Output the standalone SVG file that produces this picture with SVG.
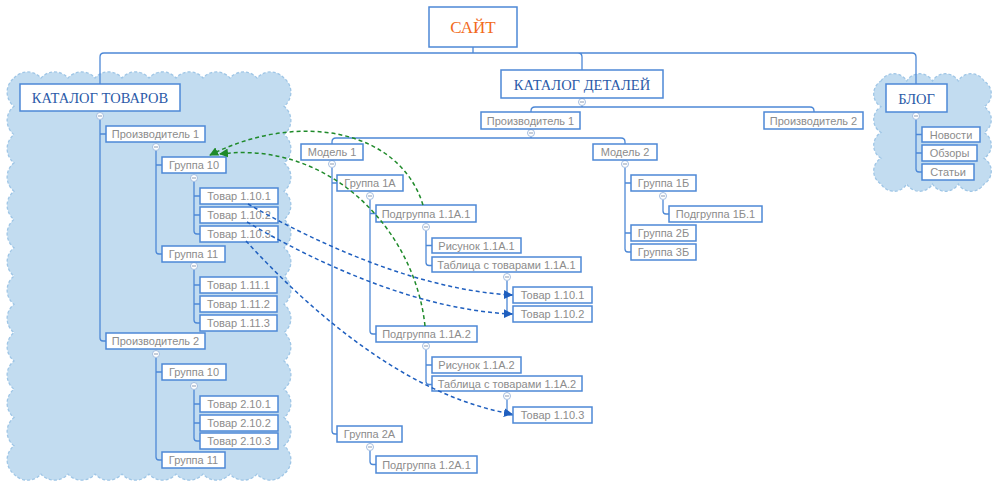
<svg xmlns="http://www.w3.org/2000/svg" width="1000" height="493" viewBox="0 0 1000 493">
<style>
.cl{fill:#c2dcf0;stroke:#9fc6e6;stroke-width:1.3;stroke-dasharray:3,2}
.b{fill:#fff;stroke:#4d88d6;stroke-width:1.5}
.t{font-family:"Liberation Sans",Arial,sans-serif;font-size:11px;fill:#8c8c8c;text-anchor:middle}
.h{font-family:"Liberation Serif","Times New Roman",serif;font-size:14.5px;fill:#2b5aa8;text-anchor:middle}
.ln{fill:none;stroke:#4d88d6;stroke-width:1.3}
.ab{fill:none;stroke:#1f5fbf;stroke-width:1.5;stroke-dasharray:4,3}
.ag{fill:none;stroke:#1f8a2a;stroke-width:1.5;stroke-dasharray:4,3}
</style>
<defs>
<marker id="mb" viewBox="0 0 10 10" refX="9" refY="5" markerWidth="9" markerHeight="9" markerUnits="userSpaceOnUse" orient="auto"><path d="M0,0 L10,5 L0,10 z" fill="#1f5fbf"/></marker>
<marker id="mg" viewBox="0 0 10 10" refX="9" refY="5" markerWidth="9" markerHeight="9" markerUnits="userSpaceOnUse" orient="auto"><path d="M0,0 L10,5 L0,10 z" fill="#1f8a2a"/></marker>
<g id="tog"><circle r="3.5" fill="#fff" stroke="#a3bde0" stroke-width="1"/><path d="M-2,0 H2" stroke="#8b9bb3" stroke-width="1"/></g>
</defs>

<g id="clouds">
<path class="cl" d="M14,78 a18,18 0 0,1 27,0 a18,18 0 0,1 27,0 a18,18 0 0,1 27,0 a18,18 0 0,1 27,0 a18,18 0 0,1 27,0 a18,18 0 0,1 27,0 a18,18 0 0,1 27,0 a18,18 0 0,1 27,0 a18,18 0 0,1 27,0 a18,18 0 0,1 27,0
a18,18 0 0,1 0,28.29 a18,18 0 0,1 0,28.29 a18,18 0 0,1 0,28.29 a18,18 0 0,1 0,28.29 a18,18 0 0,1 0,28.29 a18,18 0 0,1 0,28.29 a18,18 0 0,1 0,28.29 a18,18 0 0,1 0,28.29 a18,18 0 0,1 0,28.29 a18,18 0 0,1 0,28.29 a18,18 0 0,1 0,28.29 a18,18 0 0,1 0,28.29 a18,18 0 0,1 0,28.29 a18,18 0 0,1 0,28.29
a18,18 0 0,1 -27,0 a18,18 0 0,1 -27,0 a18,18 0 0,1 -27,0 a18,18 0 0,1 -27,0 a18,18 0 0,1 -27,0 a18,18 0 0,1 -27,0 a18,18 0 0,1 -27,0 a18,18 0 0,1 -27,0 a18,18 0 0,1 -27,0 a18,18 0 0,1 -27,0
a18,18 0 0,1 0,-28.29 a18,18 0 0,1 0,-28.29 a18,18 0 0,1 0,-28.29 a18,18 0 0,1 0,-28.29 a18,18 0 0,1 0,-28.29 a18,18 0 0,1 0,-28.29 a18,18 0 0,1 0,-28.29 a18,18 0 0,1 0,-28.29 a18,18 0 0,1 0,-28.29 a18,18 0 0,1 0,-28.29 a18,18 0 0,1 0,-28.29 a18,18 0 0,1 0,-28.29 a18,18 0 0,1 0,-28.29 a18,18 0 0,1 0,-28.29 z"/>
<path class="cl" d="M881,81 a15,15 0 0,1 25.75,0 a15,15 0 0,1 25.75,0 a15,15 0 0,1 25.75,0 a15,15 0 0,1 25.75,0
a15,15 0 0,1 0,25.75 a15,15 0 0,1 0,25.75 a15,15 0 0,1 0,25.75 a15,15 0 0,1 0,25.75
a15,15 0 0,1 -25.75,0 a15,15 0 0,1 -25.75,0 a15,15 0 0,1 -25.75,0 a15,15 0 0,1 -25.75,0
a15,15 0 0,1 0,-25.75 a15,15 0 0,1 0,-25.75 a15,15 0 0,1 0,-25.75 a15,15 0 0,1 0,-25.75 z"/>
</g>

<g id="connectors">
<path class="ln" d="M473,47 V53 M100,84 V57 Q100,53 104,53 H912 Q916,53 916,57 V84 M578,53 Q582,53 582,57 V70"/>
<path class="ln" d="M100,120 V338 Q100,341 103,341 H106 M100,134 H106
M156,151 V251 Q156,254 159,254 H162 M156,165 H162
M194,182 V231 Q194,234 197,234 H200 M194,196 H200 M194,215 H200
M194,270 V320 Q194,323 197,323 H200 M194,285 H200 M194,304 H200
M156,358 V457 Q156,460 159,460 H162 M156,372 H162
M194,390 V438 Q194,441 197,441 H200 M194,404 H200 M194,423 H200"/>
<path class="ln" d="M582,105.5 V107 M531,112 V111 Q531,107 535,107 H810 Q814,107 814,111 V112
M531,136.5 V138 M332,144 V142 Q332,138 336,138 H621 Q625,138 625,142 V144
M332,168 V431 Q332,434 335,434 H337 M332,183 H337
M370,200 V331 Q370,334 373,334 H376 M370,213.5 H376
M426,231 V262.5 Q426,265.5 429,265.5 H432 M426,245.5 H432
M507,281 V311 Q507,314 510,314 H513 M507,295 H513
M426,350 V381.5 Q426,384.5 429,384.5 H432 M426,365 H432
M507,400 V412 Q507,415 510,415 H513
M370,451 V461.5 Q370,464.5 373,464.5 H376
M625,168 V249 Q625,252 628,252 H631 M625,183 H631 M625,233 H631
M663,200 V211 Q663,214 666,214 H669
M916,120 V169 Q916,172 919,172 H922 M916,134.5 H922 M916,153 H922"/>
<use href="#tog" x="100" y="116"/><use href="#tog" x="156" y="147"/><use href="#tog" x="194" y="178"/>
<use href="#tog" x="194" y="266"/><use href="#tog" x="156" y="354"/><use href="#tog" x="194" y="386"/>
<use href="#tog" x="582" y="102"/><use href="#tog" x="531" y="133"/><use href="#tog" x="332" y="164"/>
<use href="#tog" x="625" y="164"/><use href="#tog" x="370" y="196"/><use href="#tog" x="426" y="227"/>
<use href="#tog" x="507" y="277"/><use href="#tog" x="426" y="346"/><use href="#tog" x="507" y="396"/>
<use href="#tog" x="370" y="447"/><use href="#tog" x="663" y="196"/><use href="#tog" x="916" y="116"/>
</g>

<g id="n-site"><rect class="b" x="429" y="7" width="88" height="40"/><text class="h" x="473" y="33" style="fill:#f26a1b;font-size:17px">САЙТ</text></g>
<g id="n-kt"><rect class="b" x="20" y="84" width="160" height="27"/><text class="h" x="100" y="102.5">КАТАЛОГ ТОВАРОВ</text></g>
<g id="n-kd"><rect class="b" x="501" y="70" width="162" height="28"/><text class="h" x="582" y="89.5">КАТАЛОГ ДЕТАЛЕЙ</text></g>
<g id="n-blog"><rect class="b" x="886" y="84" width="61" height="28"/><text class="h" x="916.5" y="103.5">БЛОГ</text></g>

<g id="n-p1"><rect class="b" x="106" y="126" width="99" height="16"/><text class="t" x="155.5" y="138">Производитель 1</text></g>
<g id="n-g10"><rect class="b" x="162" y="157" width="64" height="16"/><text class="t" x="194" y="169">Группа 10</text></g>
<g id="n-t1101"><rect class="b" x="200" y="188" width="78" height="16"/><text class="t" x="239" y="200">Товар 1.10.1</text></g>
<g id="n-t1102"><rect class="b" x="200" y="207" width="78" height="16"/><text class="t" x="239" y="219">Товар 1.10.2</text></g>
<g id="n-t1103"><rect class="b" x="200" y="226" width="78" height="16"/><text class="t" x="239" y="238">Товар 1.10.3</text></g>
<g id="n-g11"><rect class="b" x="162" y="246" width="63" height="16"/><text class="t" x="193.5" y="258">Группа 11</text></g>
<g id="n-t1111"><rect class="b" x="200" y="277" width="77" height="16"/><text class="t" x="238.5" y="289">Товар 1.11.1</text></g>
<g id="n-t1112"><rect class="b" x="200" y="296" width="77" height="16"/><text class="t" x="238.5" y="308">Товар 1.11.2</text></g>
<g id="n-t1113"><rect class="b" x="200" y="315" width="77" height="16"/><text class="t" x="238.5" y="327">Товар 1.11.3</text></g>
<g id="n-p2"><rect class="b" x="106" y="333" width="99" height="16"/><text class="t" x="155.5" y="345">Производитель 2</text></g>
<g id="n-g10b"><rect class="b" x="162" y="364" width="64" height="16"/><text class="t" x="194" y="376">Группа 10</text></g>
<g id="n-t2101"><rect class="b" x="200" y="396" width="78" height="16"/><text class="t" x="239" y="408">Товар 2.10.1</text></g>
<g id="n-t2102"><rect class="b" x="200" y="415" width="78" height="16"/><text class="t" x="239" y="427">Товар 2.10.2</text></g>
<g id="n-t2103"><rect class="b" x="200" y="433" width="78" height="16"/><text class="t" x="239" y="445">Товар 2.10.3</text></g>
<g id="n-g11b"><rect class="b" x="162" y="452" width="63" height="16"/><text class="t" x="193.5" y="464">Группа 11</text></g>

<g id="n-mp1"><rect class="b" x="481" y="112" width="99" height="17"/><text class="t" x="530.5" y="124.5">Производитель 1</text></g>
<g id="n-mp2"><rect class="b" x="764" y="112" width="99" height="17"/><text class="t" x="813.5" y="124.5">Производитель 2</text></g>
<g id="n-m1"><rect class="b" x="301" y="144" width="62" height="16"/><text class="t" x="332" y="156">Модель 1</text></g>
<g id="n-m2"><rect class="b" x="593" y="144" width="64" height="16"/><text class="t" x="625" y="156">Модель 2</text></g>
<g id="n-g1a"><rect class="b" x="337" y="175" width="66" height="16"/><text class="t" x="370" y="187">Группа 1А</text></g>
<g id="n-pg11a1"><rect class="b" x="376" y="205" width="100" height="17"/><text class="t" x="426" y="217.5">Подгруппа 1.1А.1</text></g>
<g id="n-r11a1"><rect class="b" x="432" y="238" width="89" height="15"/><text class="t" x="476.5" y="249.5">Рисунок 1.1А.1</text></g>
<g id="n-tab11a1"><rect class="b" x="432" y="257" width="149" height="15"/><text class="t" x="506.5" y="268.5">Таблица с товарами 1.1А.1</text></g>
<g id="n-mt1101"><rect class="b" x="513" y="287" width="79" height="16"/><text class="t" x="552.5" y="299">Товар 1.10.1</text></g>
<g id="n-mt1102"><rect class="b" x="513" y="306" width="79" height="16"/><text class="t" x="552.5" y="318">Товар 1.10.2</text></g>
<g id="n-pg11a2"><rect class="b" x="376" y="326" width="101" height="16"/><text class="t" x="426.5" y="338">Подгруппа 1.1А.2</text></g>
<g id="n-r11a2"><rect class="b" x="432" y="357" width="89" height="16"/><text class="t" x="476.5" y="369">Рисунок 1.1А.2</text></g>
<g id="n-tab11a2"><rect class="b" x="432" y="376" width="150" height="15"/><text class="t" x="507" y="387.5">Таблица с товарами 1.1А.2</text></g>
<g id="n-mt1103"><rect class="b" x="513" y="407" width="79" height="16"/><text class="t" x="552.5" y="419">Товар 1.10.3</text></g>
<g id="n-g2a"><rect class="b" x="337" y="426" width="65" height="16"/><text class="t" x="369.5" y="438">Группа 2А</text></g>
<g id="n-pg12a1"><rect class="b" x="376" y="456" width="101" height="17"/><text class="t" x="426.5" y="468.5">Подгруппа 1.2А.1</text></g>
<g id="n-g1b"><rect class="b" x="631" y="175" width="65" height="16"/><text class="t" x="663.5" y="187">Группа 1Б</text></g>
<g id="n-pg1b1"><rect class="b" x="669" y="206" width="93" height="16"/><text class="t" x="715.5" y="218">Подгруппа 1Б.1</text></g>
<g id="n-g2b"><rect class="b" x="631" y="225" width="65" height="16"/><text class="t" x="663.5" y="237">Группа 2Б</text></g>
<g id="n-g3b"><rect class="b" x="631" y="244" width="65" height="16"/><text class="t" x="663.5" y="256">Группа 3Б</text></g>

<g id="n-news"><rect class="b" x="922" y="127" width="58" height="15"/><text class="t" x="951" y="138.5">Новости</text></g>
<g id="n-rev"><rect class="b" x="922" y="145" width="55" height="16"/><text class="t" x="949.5" y="157">Обзоры</text></g>
<g id="n-art"><rect class="b" x="922" y="164" width="52" height="16"/><text class="t" x="948" y="176">Статьи</text></g>

<g id="links">
<path class="ag" d="M423,205 C400,130 300,110 210,155" marker-end="url(#mg)"/>
<path class="ag" d="M425,326 C415,230 330,140 220,154" marker-end="url(#mg)"/>
<path class="ab" d="M248,204 C320,245 420,290 512,295" marker-end="url(#mb)"/>
<path class="ab" d="M247,222 C320,265 420,310 512,314" marker-end="url(#mb)"/>
<path class="ab" d="M246,241 C300,300 400,395 512,414" marker-end="url(#mb)"/>
</g>
</svg>
